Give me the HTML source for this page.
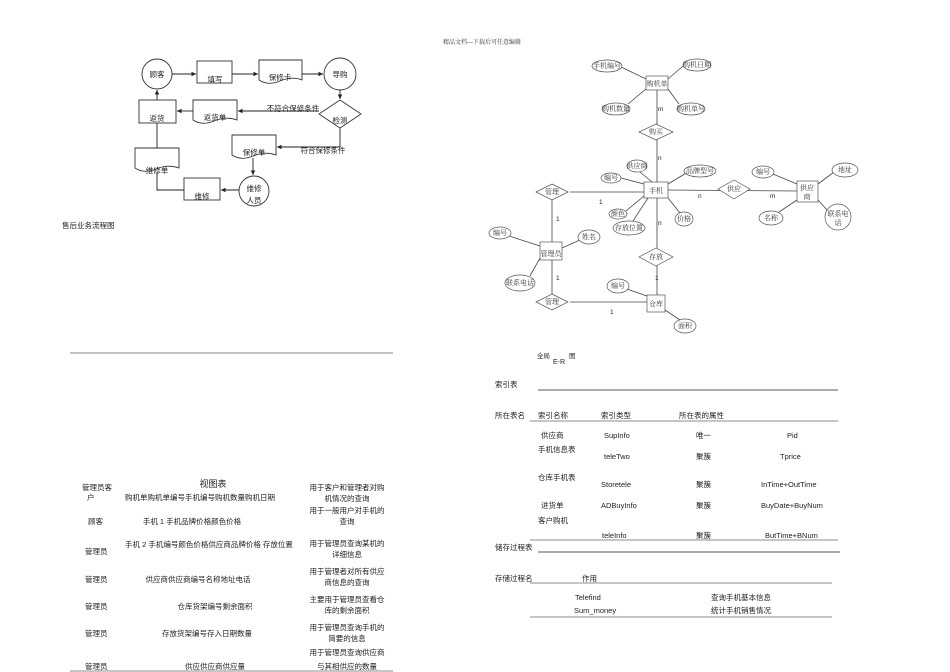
<!DOCTYPE html>
<html><head><meta charset="utf-8"><style>
html,body{margin:0;padding:0;background:#fff;}
svg{display:block;}
text{font-family:"Liberation Sans","Noto Sans CJK SC",sans-serif;font-size:7.5px;fill:#222;}
.s{font-family:"Liberation Serif","Noto Serif CJK SC",serif;font-size:7px;fill:#333;}
.m{text-anchor:middle;}
</style></head><body>
<svg width="950" height="672" viewBox="0 0 950 672" xmlns="http://www.w3.org/2000/svg">
<defs><marker id="a" markerWidth="6" markerHeight="6" refX="5" refY="3" orient="auto"><path d="M0,0.5 L5,3 L0,5.5z" fill="#222"/></marker></defs>
<text class="s m" x="482" y="44" style="font-size:6px">精品文档---下载后可任意编辑</text>

<!-- flowchart -->
<g stroke="#333" stroke-width="0.9" fill="#fff">
<circle cx="157" cy="74" r="15"/>
<rect x="197" y="61" width="35" height="22"/>
<path d="M259,60 H302 V80 Q292,76 280,81 Q268,86 259,80 Z"/>
<circle cx="340" cy="74" r="16"/>
<path d="M340,100 L361,114 L340,128 L319,114 Z"/>
<path d="M193,100 H237 V120 Q226,116 214,121 Q202,126 193,120 Z"/>
<rect x="139" y="100" width="37" height="23"/>
<path d="M232,135 H276 V155 Q265,151 253,156 Q241,161 232,155 Z"/>
<path d="M135,148 H179 V168 Q168,164 156,169 Q144,174 135,168 Z"/>
<circle cx="254" cy="191" r="15"/>
<rect x="184" y="178" width="36" height="22"/>
</g>
<g stroke="#222" stroke-width="0.9" fill="none">
<line x1="172" y1="74" x2="196" y2="74" marker-end="url(#a)"/>
<line x1="232" y1="74" x2="258" y2="74" marker-end="url(#a)"/>
<line x1="302" y1="74" x2="323" y2="74" marker-end="url(#a)"/>
<line x1="340" y1="90" x2="340" y2="99" marker-end="url(#a)"/>
<line x1="319" y1="111" x2="238" y2="111" marker-end="url(#a)"/>
<line x1="193" y1="111" x2="177" y2="111" marker-end="url(#a)"/>
<line x1="157" y1="100" x2="157" y2="90" marker-end="url(#a)"/>
<polyline points="340,128 340,147 277,147" marker-end="url(#a)"/>
<line x1="253" y1="158" x2="253" y2="175" marker-end="url(#a)"/>
<line x1="239" y1="190" x2="221" y2="190" marker-end="url(#a)"/>
<polyline points="184,190 157,190 157,172"/>
<line x1="157" y1="148" x2="157" y2="123"/>
</g>
<text class="m" x="157" y="77">顾客</text>
<text class="m" x="215" y="82">填写</text>
<text class="m" x="280" y="80">保修卡</text>
<text class="m" x="340" y="77">导购</text>
<text class="m" x="340" y="123">检测</text>
<text class="m" x="215" y="120">返货单</text>
<text class="m" x="157" y="121">返货</text>
<text class="m" x="293" y="111">不符合保修条件</text>
<text class="m" x="254" y="155">保修单</text>
<text class="m" x="323" y="153">符合保修条件</text>
<text class="m" x="157" y="173">维修单</text>
<text class="m" x="202" y="199">维修</text>
<text class="m" x="254" y="191">维修</text>
<text class="m" x="254" y="203">人员</text>
<text x="62" y="228">售后业务流程图</text>
<line x1="70" y1="353" x2="393" y2="353" stroke="#888" stroke-width="1"/>

<!-- ER -->
<g stroke="#444" stroke-width="0.8" fill="none">
<line x1="657" y1="90" x2="657" y2="182"/>
<line x1="657" y1="198" x2="657" y2="295"/>
<line x1="570" y1="192" x2="644" y2="192"/>
<line x1="668" y1="190" x2="797" y2="191"/>
<line x1="552" y1="200" x2="552" y2="242"/>
<line x1="552" y1="260" x2="552" y2="294"/>
<line x1="570" y1="302" x2="647" y2="302"/>
<line x1="621" y1="67" x2="646" y2="79"/><line x1="683" y1="66" x2="668" y2="79"/>
<line x1="628" y1="104" x2="646" y2="89"/><line x1="679" y1="104" x2="668" y2="89"/>
<line x1="640" y1="172" x2="652" y2="182"/><line x1="688" y1="172" x2="668" y2="184"/>
<line x1="621" y1="178" x2="644" y2="184"/><line x1="626" y1="211" x2="644" y2="196"/>
<line x1="633" y1="221" x2="648" y2="198"/><line x1="680" y1="213" x2="668" y2="198"/>
<line x1="773" y1="174" x2="797" y2="184"/><line x1="834" y1="172" x2="818" y2="184"/>
<line x1="779" y1="212" x2="797" y2="200"/><line x1="828" y1="211" x2="818" y2="200"/>
<line x1="509" y1="236" x2="540" y2="246"/><line x1="580" y1="240" x2="562" y2="248"/>
<line x1="530" y1="276" x2="540" y2="258"/>
<line x1="627" y1="289" x2="647" y2="296"/><line x1="680" y1="320" x2="665" y2="310"/>
</g>
<g stroke="#555" stroke-width="0.7" fill="#fff">
<rect x="646" y="76" width="22" height="14"/>
<rect x="644" y="182" width="24" height="16"/>
<rect x="797" y="181" width="21" height="21"/>
<rect x="540" y="242" width="22" height="18"/>
<rect x="647" y="295" width="18" height="17"/>
<path d="M656,124 L673,132 L656,140 L639,132Z"/>
<path d="M552,184 L568,192 L552,200 L536,192Z"/>
<path d="M734,180 L750,189 L734,199 L718,189Z"/>
<path d="M656,248 L673,257 L656,266 L639,257Z"/>
<path d="M552,294 L568,302 L552,310 L536,302Z"/>
<ellipse cx="607" cy="66" rx="15" ry="6"/>
<ellipse cx="697" cy="65" rx="14" ry="6"/>
<ellipse cx="616" cy="109" rx="14" ry="6"/>
<ellipse cx="691" cy="109" rx="14" ry="6"/>
<ellipse cx="637" cy="166" rx="10" ry="6"/>
<ellipse cx="700" cy="171" rx="16" ry="6"/>
<ellipse cx="611" cy="178" rx="10" ry="5"/>
<ellipse cx="618" cy="214" rx="9" ry="5"/>
<ellipse cx="629" cy="228" rx="16" ry="7"/>
<ellipse cx="684" cy="219" rx="9" ry="7"/>
<ellipse cx="763" cy="172" rx="11" ry="6"/>
<ellipse cx="845" cy="170" rx="13" ry="7"/>
<ellipse cx="771" cy="218" rx="12" ry="7"/>
<ellipse cx="838" cy="217" rx="13" ry="13"/>
<ellipse cx="500" cy="233" rx="11" ry="6"/>
<ellipse cx="589" cy="237" rx="11" ry="7"/>
<ellipse cx="520" cy="283" rx="15" ry="8"/>
<ellipse cx="618" cy="286" rx="11" ry="7"/>
<ellipse cx="685" cy="326" rx="11" ry="7"/>
</g>
<g class="s">
<text class="s m" x="657" y="86">购机单</text>
<text class="s m" x="607" y="68">手机编号</text>
<text class="s m" x="697" y="67">购机日期</text>
<text class="s m" x="616" y="111">购机数量</text>
<text class="s m" x="691" y="111">购机单号</text>
<text class="s m" x="656" y="134">购买</text>
<text class="s m" x="656" y="193">手机</text>
<text class="s m" x="637" y="168">供应商</text>
<text class="s m" x="700" y="173">品牌型号</text>
<text class="s m" x="611" y="180">编号</text>
<text class="s m" x="618" y="216">颜色</text>
<text class="s m" x="629" y="230">存放位置</text>
<text class="s m" x="684" y="221">价格</text>
<text class="s m" x="552" y="194">管理</text>
<text class="s m" x="734" y="191">供应</text>
<text class="s m" x="807" y="190">供应</text>
<text class="s m" x="807" y="199">商</text>
<text class="s m" x="763" y="174">编号</text>
<text class="s m" x="845" y="172">地址</text>
<text class="s m" x="771" y="220">名称</text>
<text class="s m" x="838" y="216">联系电</text>
<text class="s m" x="838" y="225">话</text>
<text class="s m" x="551" y="256">管理员</text>
<text class="s m" x="500" y="235">编号</text>
<text class="s m" x="589" y="239">姓名</text>
<text class="s m" x="520" y="285">联系电话</text>
<text class="s m" x="656" y="259">存放</text>
<text class="s m" x="552" y="304">管理</text>
<text class="s m" x="656" y="306">仓库</text>
<text class="s m" x="618" y="288">编号</text>
<text class="s m" x="685" y="328">面积</text>
</g>
<g style="font-size:6.5px">
<text x="658" y="111" style="font-size:6.5px">m</text>
<text x="658" y="160" style="font-size:6.5px">n</text>
<text x="599" y="204" style="font-size:6.5px">1</text>
<text x="698" y="198" style="font-size:6.5px">n</text>
<text x="770" y="198" style="font-size:6.5px">m</text>
<text x="556" y="221" style="font-size:6.5px">1</text>
<text x="658" y="225" style="font-size:6.5px">n</text>
<text x="556" y="280" style="font-size:6.5px">1</text>
<text x="655" y="280" style="font-size:6.5px">1</text>
<text x="610" y="314" style="font-size:6.5px">1</text>
</g>
<text x="537" y="358" style="font-size:6.5px">全局</text>
<text x="553" y="364" style="font-size:7px">E-R</text>
<text x="569" y="358" style="font-size:6.5px">图</text>

<!-- index table -->
<text x="495" y="387">索引表</text>
<line x1="538" y1="390" x2="838" y2="390" stroke="#222" stroke-width="0.8"/>
<text x="495" y="418">所在表名</text><text x="538" y="418">索引名称</text><text x="601" y="418">索引类型</text><text x="679" y="418">所在表的属性</text>
<line x1="530" y1="421" x2="838" y2="421" stroke="#666" stroke-width="0.7"/>
<text x="541" y="438">供应商</text><text x="604" y="438">SupInfo</text><text x="696" y="438">唯一</text><text x="787" y="438">Pid</text>
<text x="538" y="452">手机信息表</text>
<text x="604" y="459">teleTwo</text><text x="696" y="459">聚簇</text><text x="780" y="459">Tprice</text>
<text x="538" y="480">仓库手机表</text>
<text x="601" y="487">Storetele</text><text x="696" y="487">聚簇</text><text x="761" y="487">InTime+OutTime</text>
<text x="541" y="508">进货单</text><text x="601" y="508">ADBuyInfo</text><text x="696" y="508">聚簇</text><text x="761" y="508">BuyDate+BuyNum</text>
<text x="538" y="523">客户购机</text>
<text x="602" y="538">teleInfo</text><text x="696" y="538">聚簇</text><text x="765" y="538">ButTime+BNum</text>
<line x1="530" y1="540" x2="838" y2="540" stroke="#666" stroke-width="0.7"/>
<text x="495" y="550">储存过程表</text>
<line x1="538" y1="552" x2="840" y2="552" stroke="#222" stroke-width="0.8"/>
<text x="495" y="581">存储过程名</text><text x="582" y="581">作用</text>
<line x1="530" y1="583" x2="832" y2="583" stroke="#666" stroke-width="0.7"/>
<text x="575" y="600">Telefind</text><text x="711" y="600">查询手机基本信息</text>
<text x="574" y="613">Sum_money</text><text x="711" y="613">统计手机销售情况</text>
<line x1="530" y1="617" x2="832" y2="617" stroke="#666" stroke-width="0.7"/>

<!-- view table -->
<text class="m" x="213" y="487" style="font-size:9px">视图表</text>
<text x="82" y="490">管理员客</text><text x="87" y="500">户</text>
<text x="125" y="500">购机单购机单编号手机编号购机数量购机日期</text>
<text class="m" x="347" y="490">用于客户和管理者对购</text><text class="m" x="347" y="501">机情况的查询</text>
<text x="88" y="524">顾客</text>
<text class="m" x="192" y="524">手机 1 手机品牌价格颜色价格</text>
<text class="m" x="347" y="513">用于一般用户对手机的</text><text class="m" x="347" y="524">查询</text>
<text x="85" y="554">管理员</text>
<text x="125" y="547">手机 2 手机编号颜色价格供应商品牌价格 存放位置</text>
<text class="m" x="347" y="546">用于管理员查询某机的</text><text class="m" x="347" y="557">详细信息</text>
<text x="85" y="582">管理员</text>
<text class="m" x="198" y="582">供应商供应商编号名称地址电话</text>
<text class="m" x="347" y="574">用于管理者对所有供应</text><text class="m" x="347" y="585">商信息的查询</text>
<text x="85" y="609">管理员</text>
<text class="m" x="215" y="609">仓库货架编号剩余面积</text>
<text class="m" x="347" y="602">主要用于管理员查看仓</text><text class="m" x="347" y="613">库的剩余面积</text>
<text x="85" y="636">管理员</text>
<text class="m" x="207" y="636">存放货架编号存入日期数量</text>
<text class="m" x="347" y="630">用于管理员查询手机的</text><text class="m" x="347" y="641">简要的信息</text>
<text class="m" x="347" y="655">用于管理员查询供应商</text>
<text x="85" y="669">管理员</text>
<text class="m" x="215" y="669">供应供应商供应量</text>
<text class="m" x="347" y="669">与其相供应的数量</text>
<line x1="70" y1="671" x2="393" y2="671" stroke="#666" stroke-width="0.8"/>
</svg>
</body></html>
